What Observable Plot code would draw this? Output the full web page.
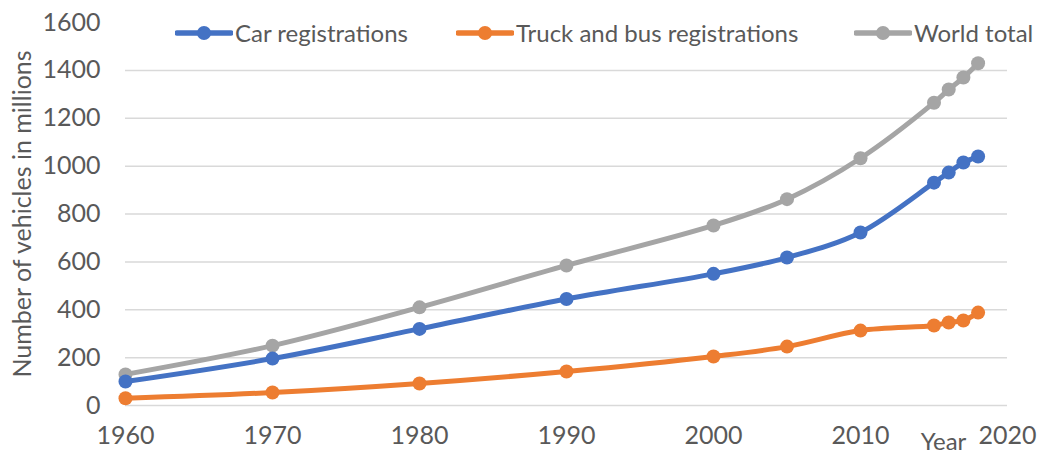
<!DOCTYPE html>
<html>
<head>
<meta charset="utf-8">
<script src="https://cdn.jsdelivr.net/npm/d3@7"></script>
<script src="https://cdn.jsdelivr.net/npm/@observablehq/plot@0.6"></script>
<style>
  html, body { margin: 0; padding: 0; background: #fff; }
  #wrap { position: relative; width: 1040px; height: 456px; font-family: Lato, "Open Sans", sans-serif; }
  .item { position: absolute; top: 18px; display: flex; align-items: center; white-space: nowrap; font-size: 24px; color: #595959; }
</style>
</head>
<body>
<div id="wrap"></div>
<script>
const years = [1960, 1970, 1980, 1990, 2000, 2005, 2010, 2015, 2016, 2017, 2018];
const cars = [100, 196, 320, 445, 550, 618, 723, 931, 973, 1015, 1040];
const trucks = [30, 54, 92, 142, 205, 246, 313, 334, 347, 355, 388];
const world = [130, 250, 410, 585, 752, 862, 1033, 1265, 1320, 1370, 1430];
const seriesNames = ["Car registrations", "Truck and bus registrations", "World total"];
const seriesColors = ["#4472C4", "#ED7D31", "#A5A5A5"];
const yTicks = [0, 200, 400, 600, 800, 1000, 1200, 1400, 1600];
const gridTicks = [0, 200, 400, 600, 800, 1000, 1200, 1400];
const xTicks = [1960, 1970, 1980, 1990, 2000, 2010, 2020];

const valuesBySeries = [cars, trucks, world];
const rows = [];
seriesNames.forEach((s, i) => years.forEach((yr, j) => rows.push({series: s, year: yr, value: valuesBySeries[i][j]})));

const drawOrder = ["World total", "Car registrations", "Truck and bus registrations"];
const marks = [
  Plot.ruleY(gridTicks, {stroke: "#d9d9d9", strokeWidth: 1.5}),
  Plot.axisY({ticks: yTicks, tickSize: 0, tickPadding: 25, fontSize: 25, tickFormat: "d", label: "Number of vehicles in millions", labelAnchor: "center", labelArrow: "none", labelOffset: 112, color: "#595959"}),
  Plot.axisX({ticks: xTicks, tickSize: 0, tickPadding: 21, fontSize: 25, tickFormat: "d", label: null, color: "#595959"}),
  Plot.text(["Year"], {frameAnchor: "bottom-right", textAnchor: "middle", lineAnchor: "middle", dx: -64, dy: 37, fontSize: 24, fill: "#595959"})
];
for (const s of drawOrder) {
  const d = rows.filter(r => r.series === s);
  const c = seriesColors[seriesNames.indexOf(s)];
  marks.push(Plot.line(d, {x: "year", y: "value", stroke: c, strokeWidth: 5, curve: "catmull-rom"}));
  marks.push(Plot.dot(d, {x: "year", y: "value", fill: c, r: 7}));
}

const chart = Plot.plot({
  width: 1040,
  height: 456,
  marginLeft: 125,
  marginRight: 33,
  marginTop: 22,
  marginBottom: 51,
  style: {fontFamily: "Lato, 'Open Sans', sans-serif", color: "#595959", background: "#fff", overflow: "visible"},
  x: {domain: [1960, 2020]},
  y: {domain: [0, 1600]},
  marks
});
const wrap = document.getElementById("wrap");
wrap.appendChild(chart);

const legendLeft = [175, 456, 854];
seriesNames.forEach((s, i) => {
  const item = document.createElement("div");
  item.className = "item";
  item.style.left = legendLeft[i] + "px";
  item.innerHTML = `<svg width="58" height="18" style="margin-right:2px"><line x1="2" y1="9" x2="56" y2="9" stroke="${seriesColors[i]}" stroke-width="5.5" stroke-linecap="round"/><circle cx="29" cy="9" r="7" fill="${seriesColors[i]}"/></svg><span>${s}</span>`;
  wrap.appendChild(item);
});
</script>
</body>
</html>
